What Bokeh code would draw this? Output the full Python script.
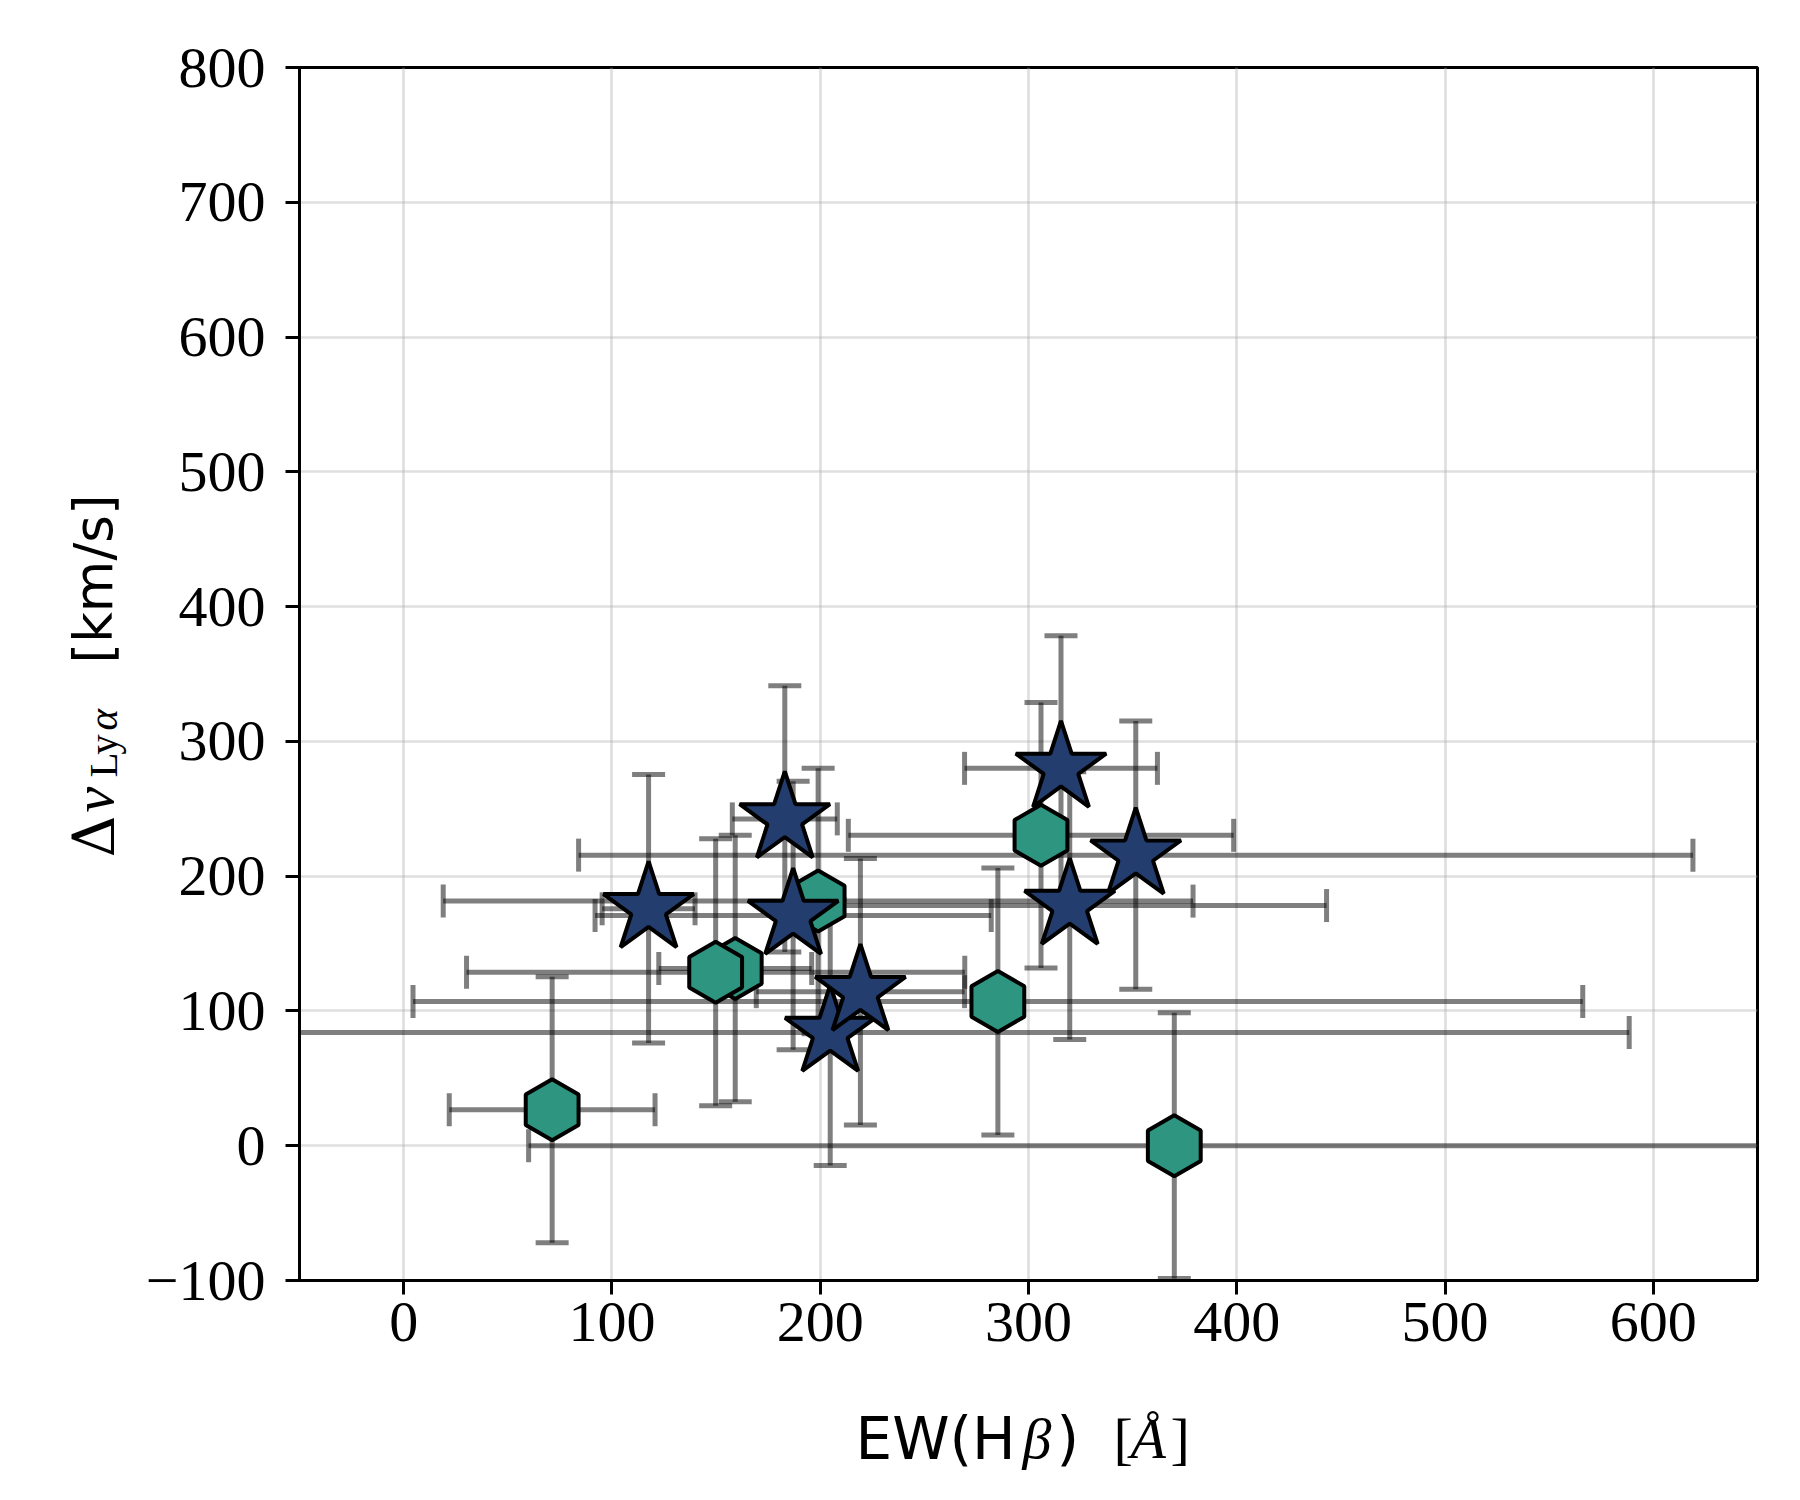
import numpy as np
from bokeh.plotting import figure
from bokeh.models import (FixedTicker, CustomJSTickFormatter, Label, Range1d)
from bokeh.embed import file_html
from bokeh.resources import INLINE

# ---------------- data ----------------
hex_x = [71.3, 159.2, 149.8, 199.0, 306.0, 285.3, 370.0]
hex_y = [26.7, 131.5, 128.7, 181.5, 230.3, 107.0, 0.0]
hex_xerr = [49.4, 36.7, 119.6, 180.0, 92.5, 280.8, 310.0]
hex_yerr = [98.6, 98.9, 99.0, 98.5, 98.5, 99.0, 98.6]

star_x = [117.6, 183.0, 187.0, 204.8, 219.3, 315.6, 351.5, 319.8]
star_y = [175.8, 242.5, 170.8, 84.0, 114.3, 280.0, 215.6, 178.2]
star_xerr = [22.3, 25.2, 95.1, 383.6, 50.0, 46.3, 267.5, 123.3]
star_yerr = [99.6, 98.8, 99.6, 98.7, 98.9, 98.4, 99.5, 99.3]

x_ticks = [0, 100, 200, 300, 400, 500, 600]
y_ticks = [-100, 0, 100, 200, 300, 400, 500, 600, 700, 800]

X_MIN, X_MAX = -50, 650
Y_MIN, Y_MAX = -100, 800

HEX_COLOR = "#2e9680"
STAR_COLOR = "#233d6e"
SERIF = "Liberation Serif"
SANS = "DejaVu Sans"

FW, FH = 1458, 1213
BL, BT = 299, 67

p = figure(frame_width=FW, frame_height=FH,
           x_range=Range1d(X_MIN, X_MAX), y_range=Range1d(Y_MIN, Y_MAX),
           output_backend="svg", toolbar_location=None,
           min_border_left=BL, min_border_right=27,
           min_border_top=BT, min_border_bottom=204,
           background_fill_color="white", border_fill_color="white")

p.outline_line_color = "black"
p.outline_line_width = 3

fmt = CustomJSTickFormatter(code="return tick < 0 ? '\\u2212' + Math.abs(tick).toFixed(0) : tick.toFixed(0);")
p.xaxis.ticker = FixedTicker(ticks=x_ticks)
p.yaxis.ticker = FixedTicker(ticks=y_ticks)
for ax in (p.xaxis, p.yaxis):
    ax.formatter = fmt
    ax.axis_line_color = "black"
    ax.axis_line_width = 3
    ax.major_tick_line_color = "black"
    ax.major_tick_line_width = 3
    ax.major_tick_out = 14
    ax.major_tick_in = 0
    ax.minor_tick_out = 0
    ax.minor_tick_in = 0
    ax.major_label_text_font = SERIF
    ax.major_label_text_font_size = "58px"
    ax.major_label_text_color = "black"
p.xaxis.major_label_standoff = 8
p.yaxis.major_label_standoff = 20

p.grid.grid_line_color = "#b0b0b0"
p.grid.grid_line_alpha = 0.4
p.grid.grid_line_width = 2.7

# ---------------- error bars ----------------
def errbars(xs, ys, xe, ye):
    xs = np.array(xs); ys = np.array(ys); xe = np.array(xe); ye = np.array(ye)
    p.segment(x0=xs - xe, y0=ys, x1=xs + xe, y1=ys, line_color="black",
              line_alpha=0.5, line_width=5)
    p.segment(x0=xs, y0=ys - ye, x1=xs, y1=ys + ye, line_color="black",
              line_alpha=0.5, line_width=5)
    p.scatter(x=np.concatenate([xs - xe, xs + xe]), y=np.concatenate([ys, ys]),
              marker="dash", size=33, angle=np.pi / 2, line_color="black",
              line_alpha=0.5, line_width=5)
    p.scatter(x=np.concatenate([xs, xs]), y=np.concatenate([ys - ye, ys + ye]),
              marker="dash", size=33, angle=0, line_color="black",
              line_alpha=0.5, line_width=5)

errbars(hex_x, hex_y, hex_xerr, hex_yerr)
errbars(star_x, star_y, star_xerr, star_yerr)

p.scatter(x=hex_x, y=hex_y, marker="hex", size=61, angle=np.pi / 2,
          fill_color=HEX_COLOR, line_color="black", line_width=4)
p.scatter(x=star_x, y=star_y, marker="star", size=95,
          fill_color=STAR_COLOR, line_color="black", line_width=4)

# ---------------- axis labels composed of styled pieces ----------------
# Positions in canvas pixels (from the top-left corner of the figure).
# Labels live in a side panel so that they are not clipped to the frame.
def lab(text, cx, cy, font, size, style="normal", angle=0.0):
    p.add_layout(Label(x=cx, y=cy, x_units="canvas", y_units="canvas",
                       text=text, text_font=font, text_font_size=size,
                       text_font_style=style, text_align="left",
                       text_baseline="alphabetic", angle=angle,
                       text_color="black"), "right")

XB = 1438
lab("EW(H", 855, XB, SANS, "58px")
lab("\u03b2", 1022, XB, SERIF, "58px", "italic")
lab(")", 1056, XB, SANS, "58px")
lab("[", 1113, XB, SERIF, "58px")
lab("\u00c5", 1130, XB, SERIF, "58px", "italic")
lab("]", 1170, XB, SERIF, "58px")

YB = 93
A = np.pi / 2
lab("\u0394", YB, 857, "DejaVu Serif", "58px", "normal", A)
lab("v", YB, 812, SERIF, "58px", "italic", A)
lab("Ly", YB + 9, 777, SERIF, "41px", "normal", A)
lab("\u03b1", YB + 9, 730, SERIF, "41px", "italic", A)
lab("[km/s]", YB, 663, SANS, "53px", "normal", A)

open("out.html", "w").write(file_html(p, INLINE))
